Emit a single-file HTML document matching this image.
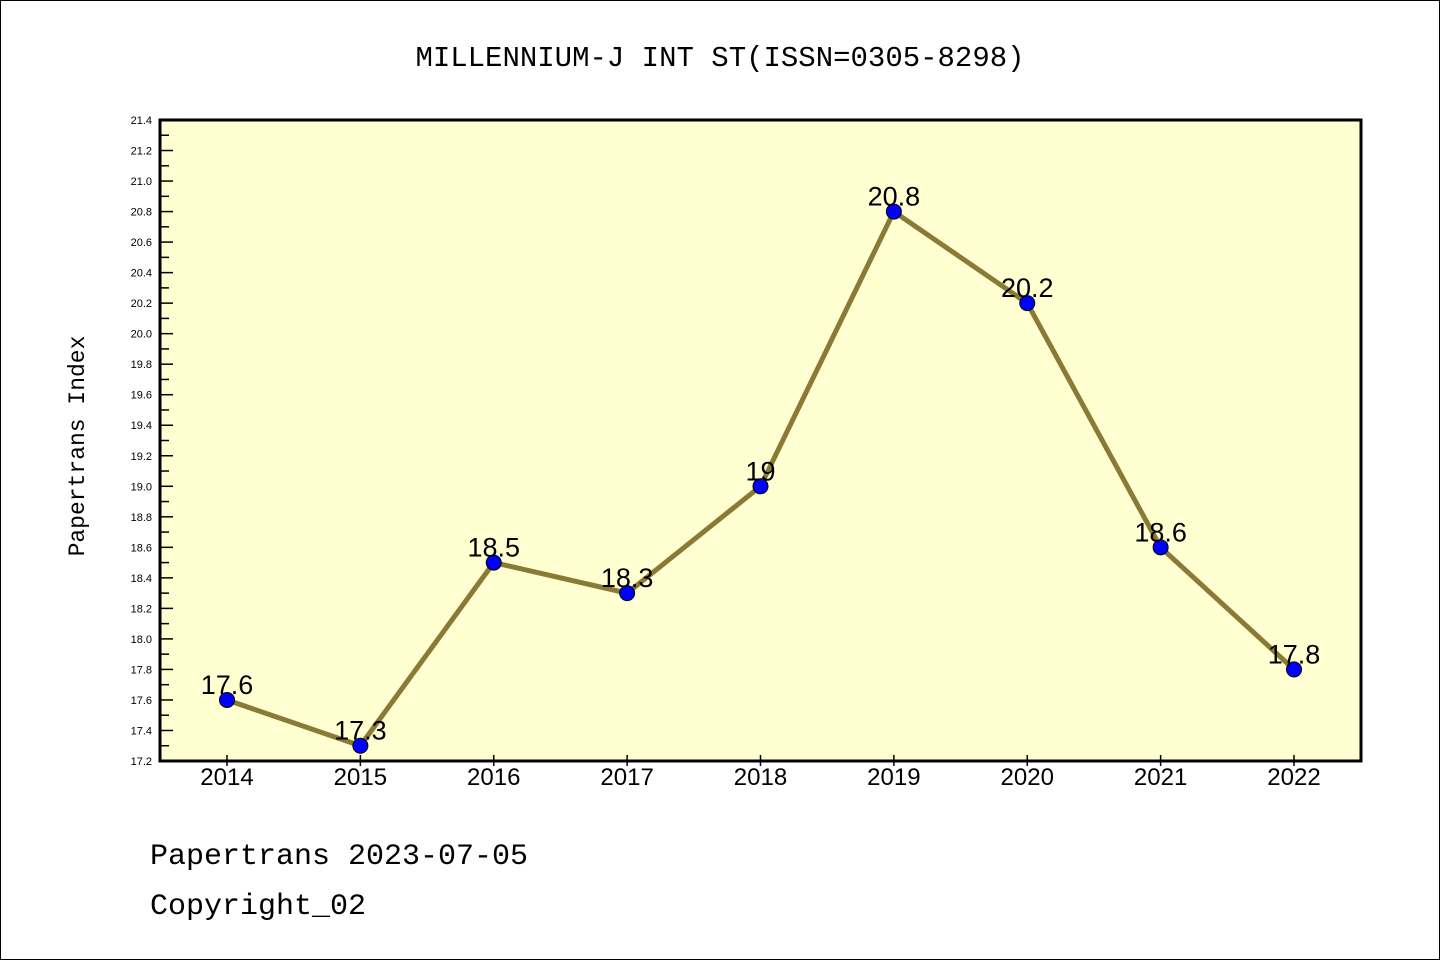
<!DOCTYPE html>
<html><head><meta charset="utf-8"><style>
body{margin:0;background:#fff}
svg{display:block}
</style></head><body>
<svg width="1440" height="960" xmlns="http://www.w3.org/2000/svg">
<rect x="0.5" y="0.5" width="1439" height="959" fill="#fff" stroke="#000"/>
<text x="720" y="66" text-anchor="middle" font-family="Liberation Mono, monospace" font-size="29">MILLENNIUM-J INT ST(ISSN=0305-8298)</text>
<rect x="160" y="120" width="1201" height="641" fill="#ffffd2" stroke="#000" stroke-width="3"/>
<text transform="translate(84,446) rotate(-90)" text-anchor="middle" font-family="Liberation Mono, monospace" font-size="23">Papertrans Index</text>
<text x="150" y="864" font-family="Liberation Mono, monospace" font-size="30">Papertrans 2023-07-05</text>
<text x="150" y="914" font-family="Liberation Mono, monospace" font-size="30">Copyright_02</text>
<g id="g"></g>
</svg>
<script>
const years=[2014,2015,2016,2017,2018,2019,2020,2021,2022];
const values=[17.6,17.3,18.5,18.3,19.0,20.8,20.2,18.6,17.8];
const labels=["17.6","17.3","18.5","18.3","19","20.8","20.2","18.6","17.8"];
const yMin=17.2,yMax=21.4;
const X=v=>227+(v-2014)*(1294-227)/8;
const Y=v=>761-(v-yMin)*(641/(yMax-yMin));
const g=document.getElementById('g');
const NS='http://www.w3.org/2000/svg';
function mk(t,a){const e=document.createElementNS(NS,t);for(const k in a)e.setAttribute(k,a[k]);g.appendChild(e);return e;}
for(let i=0;i<=42;i++){
  const v=yMin+i*0.1, y=Y(v), major=i%2===0;
  const t=mk('line',{x1:161,x2:major?173:169,y1:y,y2:y,stroke:'#000','stroke-width':1.5});
  
  
  if(major){const l=mk('text',{x:152,y:y+4,'text-anchor':'end','font-family':'Liberation Sans, sans-serif','font-size':11});
  l.textContent=v.toFixed(1);
  
  }
}
years.forEach(yr=>{
  const x=X(yr);
  const t=mk('line',{x1:x,x2:x,y1:755,y2:766,stroke:'#000','stroke-width':1.5});
  
  
  const l=mk('text',{x:x,y:785,'text-anchor':'middle','font-family':'Liberation Sans, sans-serif','font-size':24});
  l.textContent=yr;
  
  
});
const line=mk('polyline',{points:years.map((yr,i)=>X(yr)+','+Y(values[i])).join(' '),fill:'none',stroke:'#8b7a35','stroke-width':5});


years.forEach((yr,i)=>{
  const c=mk('circle',{cx:X(yr),cy:Y(values[i]),r:7.5,fill:'#0000ff',stroke:'#000','stroke-width':1});
  
  
  const l=mk('text',{x:X(yr),y:Y(values[i])-6,'text-anchor':'middle','font-family':'Liberation Sans, sans-serif','font-size':27});
  l.textContent=labels[i];
  
  
});
</script>
</body></html>
